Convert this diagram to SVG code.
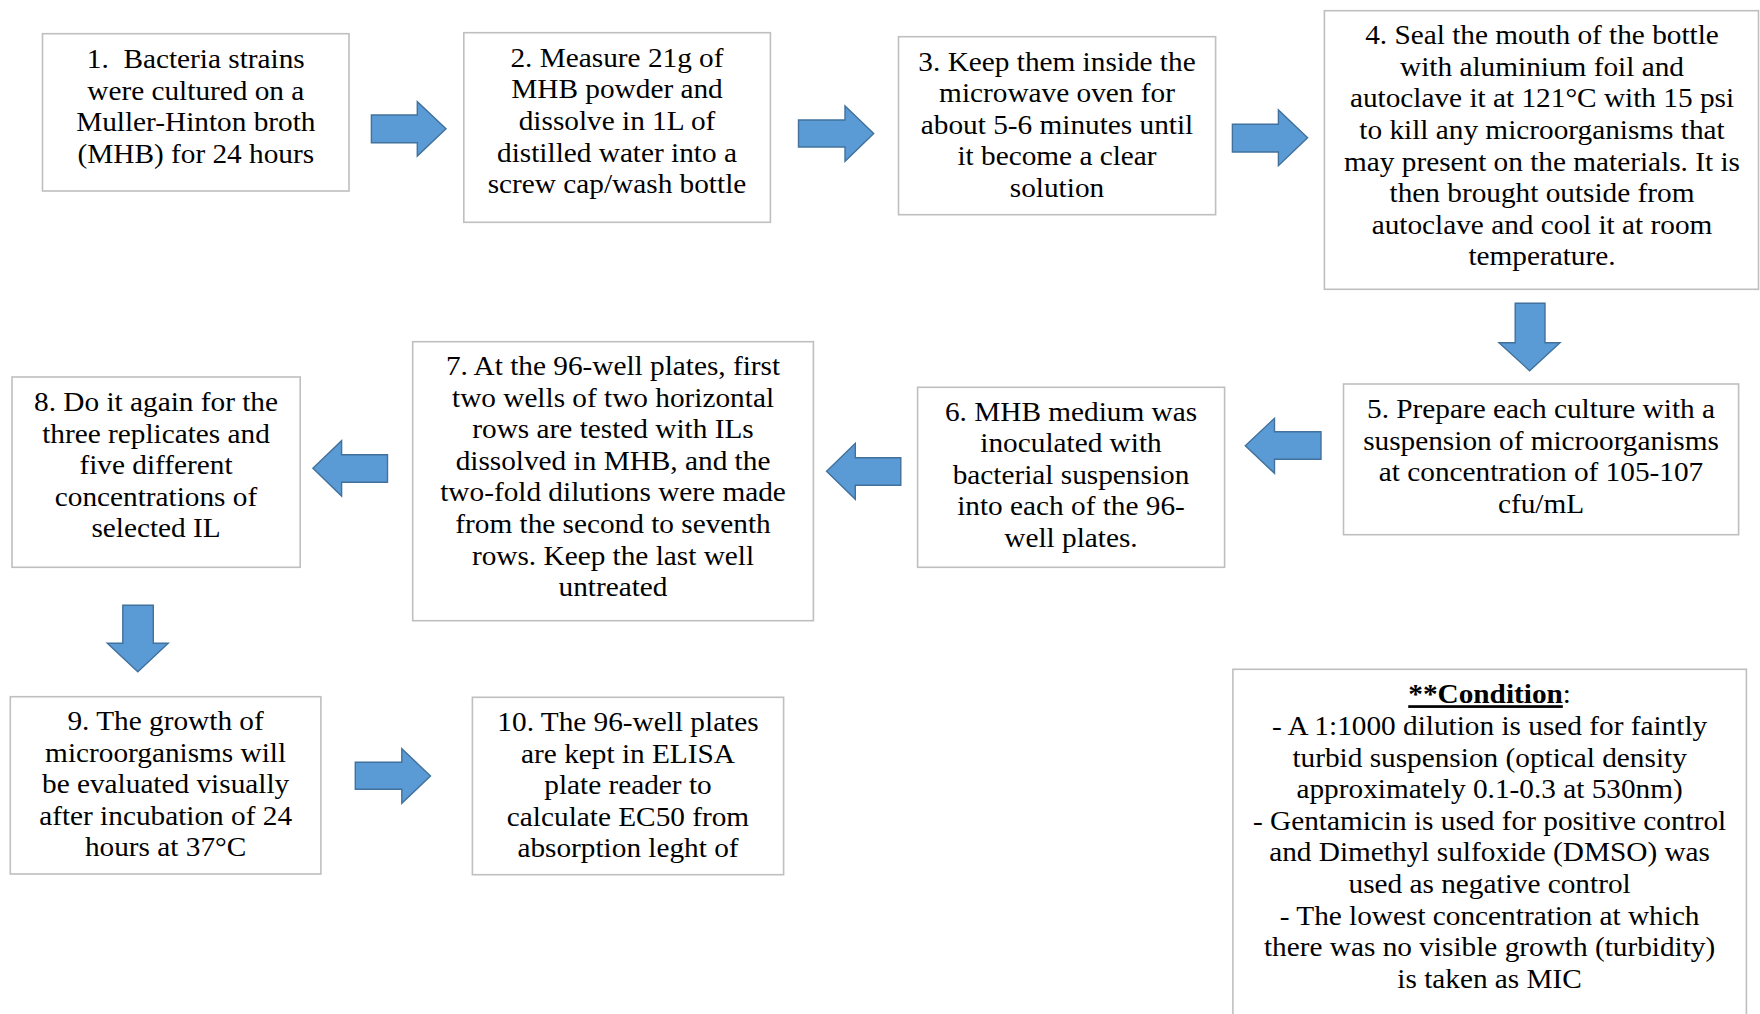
<svg xmlns="http://www.w3.org/2000/svg" width="1760" height="1014" viewBox="0 0 1760 1014">
<style>
.box{fill:#ffffff;stroke:#bfbfbf;stroke-width:1.6}
.arr{fill:#5b9bd5;stroke:#41719c;stroke-width:1.4;stroke-linejoin:miter}
.t{font-family:"Liberation Serif","Times New Roman",serif;font-size:27px;fill:#000000;text-anchor:middle}
</style>
<rect x="0" y="0" width="1760" height="1014" fill="#ffffff"/>
<g id="connectors">
<polygon class="arr" points="371.4,115 417.3,115 417.3,101.7 446,128.8 417.3,156 417.3,142.7 371.4,142.7"/>
<polygon class="arr" points="798.5,120 845,120 845,106 873.7,133.5 845,161.3 845,147 798.5,147"/>
<polygon class="arr" points="1232.4,124.3 1278.4,124.3 1278.4,110 1307.6,137.8 1278.4,165.7 1278.4,152 1232.4,152"/>
<polygon class="arr" points="1515.2,303.3 1545,303.3 1545,342.7 1560,342.7 1529.6,370.7 1499,342.7 1515.2,342.7"/>
<polygon class="arr" points="1321,431.7 1274.5,431.7 1274.5,418.3 1245.3,445.8 1274.5,473.3 1274.5,459.3 1321,459.3"/>
<polygon class="arr" points="900.8,457.7 855.3,457.7 855.3,443.3 826.6,471.3 855.3,499.3 855.3,485.3 900.8,485.3"/>
<polygon class="arr" points="387.5,454.7 341.6,454.7 341.6,440.7 312.9,468.3 341.6,496 341.6,482.3 387.5,482.3"/>
<polygon class="arr" points="122.8,605.3 153.3,605.3 153.3,643.3 168.2,643.3 137.8,671.7 107.3,643.3 122.8,643.3"/>
<polygon class="arr" points="355.3,762.3 401.8,762.3 401.8,748.7 430.5,776 401.8,803.3 401.8,789.3 355.3,789.3"/>
</g>
<g id="n1">
<rect class="box" x="42.5" y="33.7" width="306.5" height="157.3"/>
<text class="t" transform="translate(195.8,0) scale(1.085,1)"><tspan x="0" y="68">1.&#160; Bacteria strains</tspan><tspan x="0" y="99.7">were cultured on a</tspan><tspan x="0" y="131.3">Muller-Hinton broth</tspan><tspan x="0" y="163">(MHB) for 24 hours</tspan></text>
</g>
<g id="n2">
<rect class="box" x="463.8" y="32.7" width="306.6" height="189.6"/>
<text class="t" transform="translate(617,0) scale(1.085,1)"><tspan x="0" y="66.7">2. Measure 21g of</tspan><tspan x="0" y="98.3">MHB powder and</tspan><tspan x="0" y="130">dissolve in 1L of</tspan><tspan x="0" y="161.6">distilled water into a</tspan><tspan x="0" y="193.3">screw cap/wash bottle</tspan></text>
</g>
<g id="n3">
<rect class="box" x="898.5" y="36.7" width="317.1" height="178"/>
<text class="t" transform="translate(1057,0) scale(1.085,1)"><tspan x="0" y="70.7">3. Keep them inside the</tspan><tspan x="0" y="102.3">microwave oven for</tspan><tspan x="0" y="133.9">about 5-6 minutes until</tspan><tspan x="0" y="165.5">it become a clear</tspan><tspan x="0" y="197.1">solution</tspan></text>
</g>
<g id="n4">
<rect class="box" x="1324.4" y="10.7" width="434.1" height="278.6"/>
<text class="t" transform="translate(1542,0) scale(1.085,1)"><tspan x="0" y="44.3">4. Seal the mouth of the bottle</tspan><tspan x="0" y="75.9">with aluminium foil and</tspan><tspan x="0" y="107.5">autoclave it at 121°C with 15 psi</tspan><tspan x="0" y="139.1">to kill any microorganisms that</tspan><tspan x="0" y="170.7">may present on the materials. It is</tspan><tspan x="0" y="202.3">then brought outside from</tspan><tspan x="0" y="233.9">autoclave and cool it at room</tspan><tspan x="0" y="265.5">temperature.</tspan></text>
</g>
<g id="n5">
<rect class="box" x="1343.5" y="384" width="395.1" height="150.7"/>
<text class="t" transform="translate(1541,0) scale(1.085,1)"><tspan x="0" y="418.3">5. Prepare each culture with a</tspan><tspan x="0" y="449.9">suspension of microorganisms</tspan><tspan x="0" y="481.5">at concentration of 105-107</tspan><tspan x="0" y="513.1">cfu/mL</tspan></text>
</g>
<g id="n6">
<rect class="box" x="917.6" y="387.3" width="307" height="180"/>
<text class="t" transform="translate(1071,0) scale(1.085,1)"><tspan x="0" y="420.7">6. MHB medium was</tspan><tspan x="0" y="452.3">inoculated with</tspan><tspan x="0" y="483.9">bacterial suspension</tspan><tspan x="0" y="515.5">into each of the 96-</tspan><tspan x="0" y="547.1">well plates.</tspan></text>
</g>
<g id="n7">
<rect class="box" x="412.7" y="341.7" width="400.7" height="279"/>
<text class="t" transform="translate(613,0) scale(1.085,1)"><tspan x="0" y="375">7. At the 96-well plates, first</tspan><tspan x="0" y="406.6">two wells of two horizontal</tspan><tspan x="0" y="438.2">rows are tested with ILs</tspan><tspan x="0" y="469.8">dissolved in MHB, and the</tspan><tspan x="0" y="501.4">two-fold dilutions were made</tspan><tspan x="0" y="533">from the second to seventh</tspan><tspan x="0" y="564.6">rows. Keep the last well</tspan><tspan x="0" y="596.2">untreated</tspan></text>
</g>
<g id="n8">
<rect class="box" x="12" y="377" width="288.2" height="190.3"/>
<text class="t" transform="translate(156,0) scale(1.085,1)"><tspan x="0" y="411">8. Do it again for the</tspan><tspan x="0" y="442.6">three replicates and</tspan><tspan x="0" y="474.2">five different</tspan><tspan x="0" y="505.8">concentrations of</tspan><tspan x="0" y="537.4">selected IL</tspan></text>
</g>
<g id="n9">
<rect class="box" x="10.3" y="696.7" width="310.6" height="177.3"/>
<text class="t" transform="translate(165.6,0) scale(1.085,1)"><tspan x="0" y="730">9. The growth of</tspan><tspan x="0" y="761.6">microorganisms will</tspan><tspan x="0" y="793.2">be evaluated visually</tspan><tspan x="0" y="824.8">after incubation of 24</tspan><tspan x="0" y="856.4">hours at 37°C</tspan></text>
</g>
<g id="n10">
<rect class="box" x="472.4" y="697.3" width="311.2" height="177.4"/>
<text class="t" transform="translate(628,0) scale(1.085,1)"><tspan x="0" y="731">10. The 96-well plates</tspan><tspan x="0" y="762.6">are kept in ELISA</tspan><tspan x="0" y="794.2">plate reader to</tspan><tspan x="0" y="825.8">calculate EC50 from</tspan><tspan x="0" y="857.4">absorption leght of</tspan></text>
</g>
<g id="condition">
<rect class="box" x="1232.9" y="669.3" width="513.5" height="370"/>
<text class="t" transform="translate(1489.6,0) scale(1.085,1)"><tspan x="0" y="703.3"><tspan font-weight="bold" text-decoration="underline">**Condition</tspan>:</tspan><tspan x="0" y="735">- A 1:1000 dilution is used for faintly</tspan><tspan x="0" y="766.6">turbid suspension (optical density</tspan><tspan x="0" y="798.2">approximately 0.1-0.3 at 530nm)</tspan><tspan x="0" y="829.8">- Gentamicin is used for positive control</tspan><tspan x="0" y="861.4">and Dimethyl sulfoxide (DMSO) was</tspan><tspan x="0" y="893">used as negative control</tspan><tspan x="0" y="924.6">- The lowest concentration at which</tspan><tspan x="0" y="956.2">there was no visible growth (turbidity)</tspan><tspan x="0" y="987.8">is taken as MIC</tspan></text>
</g>
</svg>
